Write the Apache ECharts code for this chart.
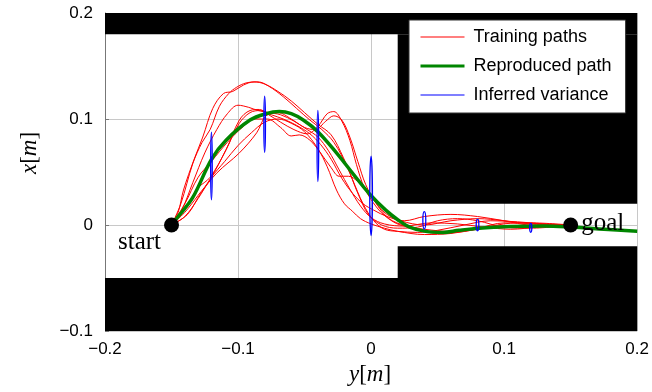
<!DOCTYPE html>
<html><head><meta charset="utf-8">
<script src="https://cdn.jsdelivr.net/npm/echarts@6/dist/echarts.min.js"></script>
<style>html,body{margin:0;padding:0;background:#fff}#c{width:652px;height:392px}</style>
</head><body><div id="c"></div>
<script>
// ---- data ----
const startPoint = [-0.15, 0];
const goalPoint = [0.15, 0];

// obstacles: [xMin, yMin, xMax, yMax]
const obstacles = [
  [-0.2, 0.18, 0.2, 0.2],
  [0.02, 0.02, 0.2, 0.18],
  [0.02, -0.05, 0.2, -0.02],
  [-0.2, -0.1, 0.2, -0.05]
];

const reproducedPath = [[-0.15,0],[-0.145,0.008],[-0.134,0.026],[-0.12,0.062],[-0.109,0.08],[-0.091,0.099],[-0.079,0.105],[-0.069,0.107],[-0.06,0.105],[-0.051,0.099],[-0.04,0.088],[-0.026,0.068],[-0.014,0.049],[-0.001,0.029],[0.011,0.014],[0.02,0.005],[0.029,-0.002],[0.041,-0.006],[0.054,-0.007],[0.066,-0.005],[0.081,-0.003],[0.104,-0.0015],[0.13,-0.001],[0.15,-0.002],[0.175,-0.004],[0.2,-0.006]];

const trainingPath1 = [[-0.15,0],[-0.145,0.012],[-0.141,0.033],[-0.133,0.062],[-0.1265,0.083],[-0.119,0.11],[-0.111,0.124],[-0.104,0.126],[-0.096,0.132],[-0.088,0.135],[-0.08,0.133],[-0.07,0.126],[-0.06,0.117],[-0.05,0.106],[-0.04,0.095],[-0.03,0.085],[-0.021,0.064],[-0.014,0.043],[-0.006,0.02],[0.002,0.004],[0.01,-0.004],[0.02,-0.006],[0.035,-0.007],[0.05,-0.005],[0.07,0.0],[0.09,0.004],[0.11,0.003],[0.13,0.001],[0.15,0]];
const trainingPath2 = [[-0.15,0],[-0.143,0.02],[-0.134,0.058],[-0.127,0.078],[-0.121,0.09],[-0.114,0.112],[-0.107,0.124],[-0.101,0.13],[-0.094,0.134],[-0.085,0.135],[-0.077,0.131],[-0.066,0.121],[-0.056,0.11],[-0.046,0.099],[-0.037,0.09],[-0.028,0.078],[-0.018,0.055],[-0.01,0.03],[-0.002,0.01],[0.008,0.0],[0.02,-0.003],[0.035,-0.002],[0.05,0.004],[0.065,0.006],[0.08,0.004],[0.1,-0.002],[0.12,-0.003],[0.15,0]];
const trainingPath3 = [[-0.15,0],[-0.14,0.015],[-0.13,0.035],[-0.121,0.045],[-0.109,0.071],[-0.099,0.099],[-0.091,0.108],[-0.084,0.109],[-0.077,0.104],[-0.068,0.097],[-0.058,0.09],[-0.048,0.086],[-0.04,0.093],[-0.033,0.105],[-0.028,0.107],[-0.022,0.098],[-0.016,0.08],[-0.011,0.057],[-0.005,0.035],[0.004,0.017],[0.012,0.007],[0.022,0.0],[0.04,-0.004],[0.06,-0.006],[0.08,-0.003],[0.1,0.002],[0.12,0.002],[0.15,0]];
const trainingPath4 = [[-0.15,0],[-0.138,0.01],[-0.128,0.03],[-0.116,0.049],[-0.099,0.068],[-0.086,0.087],[-0.079,0.103],[-0.07,0.106],[-0.06,0.1],[-0.05,0.092],[-0.042,0.09],[-0.034,0.098],[-0.028,0.103],[-0.022,0.099],[-0.016,0.083],[-0.01,0.06],[-0.004,0.038],[0.004,0.02],[0.012,0.01],[0.022,0.004],[0.04,0.0],[0.06,0.004],[0.08,0.006],[0.1,0.004],[0.12,0.001],[0.15,0]];
const trainingPath5 = [[-0.15,0],[-0.14,0.02],[-0.13,0.045],[-0.12,0.06],[-0.108,0.078],[-0.096,0.093],[-0.087,0.1],[-0.078,0.1],[-0.068,0.092],[-0.06,0.084],[-0.054,0.085],[-0.046,0.08],[-0.038,0.068],[-0.03,0.054],[-0.024,0.046],[-0.017,0.046],[-0.01,0.041],[-0.005,0.034],[0.002,0.024],[0.008,0.013],[0.016,0.004],[0.03,-0.002],[0.05,-0.008],[0.07,-0.006],[0.09,-0.001],[0.11,0.002],[0.13,0.001],[0.15,0]];
const trainingPath6 = [[-0.15,0],[-0.14,0.008],[-0.13,0.025],[-0.12,0.045],[-0.11,0.06],[-0.1,0.075],[-0.09,0.087],[-0.08,0.097],[-0.07,0.1],[-0.06,0.096],[-0.05,0.088],[-0.04,0.072],[-0.033,0.055],[-0.026,0.033],[-0.02,0.02],[-0.014,0.013],[-0.008,0.006],[0.0,0.001],[0.01,-0.003],[0.02,-0.006],[0.04,-0.009],[0.06,-0.008],[0.08,-0.004],[0.1,-0.001],[0.12,-0.002],[0.15,0]];
const trainingPath7 = [[-0.15,0],[-0.14,0.012],[-0.13,0.028],[-0.121,0.043],[-0.109,0.071],[-0.099,0.096],[-0.091,0.106],[-0.083,0.108],[-0.075,0.104],[-0.066,0.1],[-0.056,0.094],[-0.046,0.086],[-0.038,0.076],[-0.03,0.062],[-0.022,0.044],[-0.014,0.03],[-0.006,0.02],[0.002,0.014],[0.012,0.008],[0.025,0.004],[0.04,0.008],[0.06,0.01],[0.08,0.008],[0.1,0.004],[0.12,0.0],[0.15,0]];
const trainingPath8 = [[-0.15,0],[-0.142,0.015],[-0.134,0.04],[-0.125,0.068],[-0.116,0.09],[-0.108,0.105],[-0.1,0.113],[-0.092,0.111],[-0.085,0.108],[-0.077,0.106],[-0.068,0.104],[-0.058,0.098],[-0.048,0.09],[-0.04,0.083],[-0.032,0.07],[-0.024,0.052],[-0.016,0.034],[-0.008,0.018],[0.0,0.007],[0.01,0.001],[0.025,-0.001],[0.045,0.002],[0.065,0.001],[0.085,-0.002],[0.105,-0.004],[0.125,-0.002],[0.15,0]];
const trainingPaths = [trainingPath1, trainingPath2, trainingPath3, trainingPath4, trainingPath5, trainingPath6, trainingPath7, trainingPath8];

// inferred variance ellipses
const varianceX  = [-0.12, -0.08, -0.04, 0.0, 0.04, 0.08, 0.12];
const varianceY  = [0.0557, 0.095, 0.0745, 0.0275, 0.0044, 0.0, -0.0027];
const varianceRx = [0.0006, 0.0006, 0.0006, 0.001, 0.0011, 0.001, 0.0008];
const varianceRy = [0.032, 0.0265, 0.0335, 0.0375, 0.0082, 0.0055, 0.0042];

const legendNames = ['Training paths', 'Reproduced path', 'Inferred variance'];
const xRange = [-0.2, 0.2];
const yRange = [-0.1, 0.2];
const tickStep = 0.1;

// ---- chart ----
const RED = '#ff0000', GREEN = '#008600', BLUE = '#0000ff';
const fmt = v => Math.abs(v) < 1e-9 ? '0' : (v < 0 ? '\u2212' : '') + Math.abs(v).toFixed(1);
const chart = echarts.init(document.getElementById('c'), null, {renderer: 'canvas'});
const axisCommon = {
  type: 'value', interval: tickStep,
  axisLine: {show: false, onZero: false},
  axisTick: {show: false},
  splitLine: {show: true, lineStyle: {color: '#c8c8c8', width: 1}},
  axisLabel: {formatter: fmt, color: '#000', fontFamily: 'Liberation Sans', fontSize: 17}
};
const series = [];
series.push({
  type: 'custom', name: 'obstacles', z: 1, silent: true,
  data: obstacles, encode: {x: [0, 2], y: [1, 3]},
  renderItem: (params, api) => {
    const p0 = api.coord([api.value(0), api.value(3)]);
    const p1 = api.coord([api.value(2), api.value(1)]);
    return {type: 'rect', shape: {x: p0[0], y: p0[1], width: p1[0] - p0[0], height: p1[1] - p0[1]}, style: {fill: '#000'}};
  }
});
trainingPaths.forEach(p => series.push({
  type: 'line', name: legendNames[0], data: p, smooth: 0.35, symbol: 'none', z: 3,
  lineStyle: {color: RED, width: 1}, itemStyle: {color: RED}, silent: true
}));
series.push({
  type: 'line', name: legendNames[1], data: reproducedPath, smooth: 0.35, symbol: 'none', z: 4,
  lineStyle: {color: GREEN, width: 3.5}, itemStyle: {color: GREEN}, silent: true
});
series.push({
  type: 'line', name: legendNames[2], data: [], symbol: 'none',
  lineStyle: {color: BLUE, width: 1}, itemStyle: {color: BLUE}
});
series.push({
  type: 'custom', name: legendNames[2], z: 5, silent: true,
  data: varianceX.map((x, i) => [x, varianceY[i], varianceRx[i], varianceRy[i]]),
  encode: {x: 0, y: 1},
  renderItem: (params, api) => {
    const c = api.coord([api.value(0), api.value(1)]);
    const s = api.size([api.value(2), api.value(3)]);
    return {type: 'ellipse', shape: {cx: c[0], cy: c[1], rx: s[0], ry: s[1]}, style: {fill: 'none', stroke: BLUE, lineWidth: 1.3}};
  }
});
series.push({
  type: 'scatter', name: 'endpoints', z: 6, silent: true, symbolSize: 15,
  itemStyle: {color: '#000', opacity: 1},
  data: [
    {value: startPoint, label: {show: true, formatter: 'start', position: 'inside', offset: [-32, 17]}},
    {value: goalPoint, label: {show: true, formatter: 'goal', position: 'right', distance: 3, offset: [0, -2]}}
  ],
  label: {color: '#000', fontFamily: 'Liberation Serif', fontSize: 25}
});

chart.setOption({
  animation: false,
  backgroundColor: '#fff',
  grid: {left: 105, right: 14, top: 13, bottom: 61},
  xAxis: Object.assign({}, axisCommon, {min: xRange[0], max: xRange[1], axisLabel: Object.assign({}, axisCommon.axisLabel, {margin: 10})}),
  yAxis: Object.assign({}, axisCommon, {min: yRange[0], max: yRange[1],
    axisLine: {show: true, onZero: false, lineStyle: {color: '#777', width: 1}},
    axisTick: {show: true, inside: true, length: 4, lineStyle: {color: '#777'}},
    axisLabel: Object.assign({}, axisCommon.axisLabel, {margin: 12})}),
  legend: {
    data: [
      {name: legendNames[0], lineStyle: {width: 1.2}},
      {name: legendNames[1], lineStyle: {width: 3}},
      {name: legendNames[2], lineStyle: {width: 1.2}}
    ],
    orient: 'vertical', left: 409, top: 20,
    itemWidth: 44, itemHeight: 14, itemGap: 11, selectedMode: false,
    padding: [8, 14, 9, 10],
    itemStyle: {opacity: 0},
    backgroundColor: '#fff', borderColor: '#333', borderWidth: 1,
    textStyle: {fontFamily: 'Liberation Sans', fontSize: 18, color: '#000', padding: [0, 0, 0, 4]}
  },
  graphic: [
    {type: 'text', x: 370, y: 375, z: 10, style: {text: '{i|y}[{i|m}]', rich: {i: {fontStyle: 'italic', fontFamily: 'Liberation Serif', fontSize: 23}}, fontFamily: 'Liberation Serif', fontSize: 23, align: 'center', verticalAlign: 'middle', fill: '#000'}},
    {type: 'text', x: 30, y: 153, rotation: Math.PI / 2, z: 10, style: {text: '{i|x}[{i|m}]', rich: {i: {fontStyle: 'italic', fontFamily: 'Liberation Serif', fontSize: 23}}, fontFamily: 'Liberation Serif', fontSize: 23, align: 'center', verticalAlign: 'middle', fill: '#000'}}
  ],
  series: series
});
</script></body></html>
